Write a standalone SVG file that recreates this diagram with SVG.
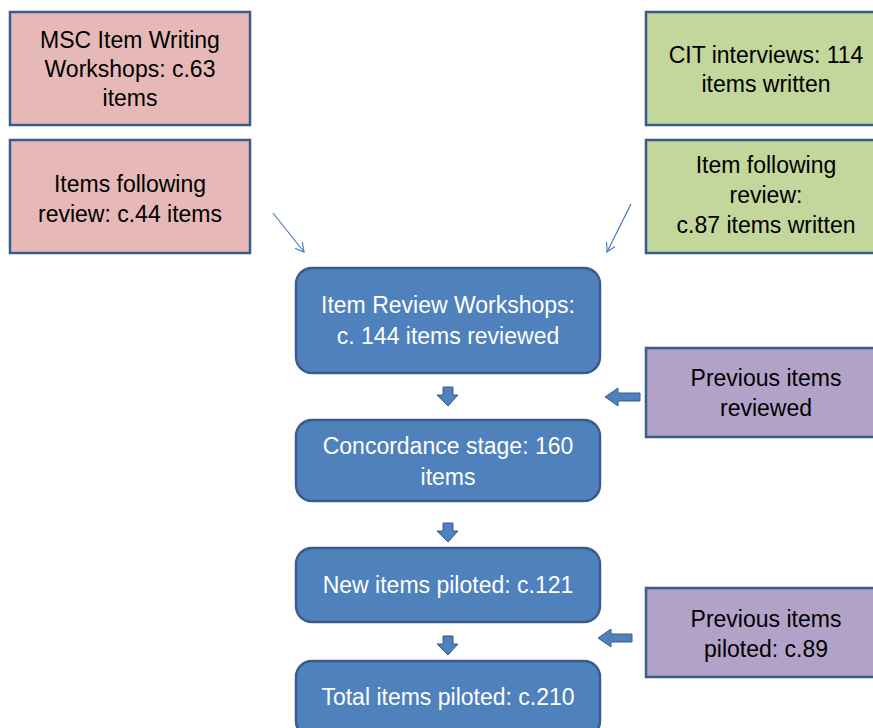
<svg xmlns="http://www.w3.org/2000/svg" width="873" height="728" viewBox="0 0 873 728">
<style>
.box{stroke:#385D8A;stroke-width:2.5}
.pink{fill:#E6B9B8}
.green{fill:#C3D69B}
.purple{fill:#B3A2C7}
.blue{fill:#4F81BD;stroke:#385D8A;stroke-width:2.5}
.arr{fill:#4F81BD;stroke:#385D8A;stroke-width:1}
text{font-family:"Liberation Sans",Arial,sans-serif;font-size:23px;text-anchor:middle}
.dark{fill:#000}
.light{fill:#fff}
.conn{stroke:#4A7EBB;stroke-width:1.2;fill:none}
</style>
<defs>
<marker id="open" viewBox="0 0 10 10" refX="9" refY="5" markerWidth="10" markerHeight="10" markerUnits="userSpaceOnUse" orient="auto">
<path d="M0,0 L9,5 L0,10" fill="none" stroke="#4A7EBB" stroke-width="1.2"/>
</marker>
</defs>
<rect width="873" height="728" fill="#fff"/>
<g id="msc-workshops">
<rect class="box pink" x="10" y="12" width="240" height="113"/>
<text class="dark" x="130" y="48">MSC Item Writing</text>
<text class="dark" x="130" y="77">Workshops: c.63</text>
<text class="dark" x="130" y="106">items</text>
</g>
<g id="msc-following">
<rect class="box pink" x="10" y="140" width="240" height="113"/>
<text class="dark" x="130" y="192">Items following</text>
<text class="dark" x="130" y="222">review: c.44 items</text>
</g>
<g id="cit-interviews">
<rect class="box green" x="646" y="12" width="242" height="113"/>
<text class="dark" x="766" y="63">CIT interviews: 114</text>
<text class="dark" x="766" y="92">items written</text>
</g>
<g id="cit-following">
<rect class="box green" x="646" y="140" width="242" height="113"/>
<text class="dark" x="766" y="173">Item following</text>
<text class="dark" x="766" y="203">review:</text>
<text class="dark" x="766" y="233">c.87 items written</text>
</g>
<g id="item-review">
<rect class="blue" x="296" y="268" width="304" height="105" rx="16"/>
<text class="light" x="448" y="313">Item Review Workshops:</text>
<text class="light" x="448" y="344">c. 144 items reviewed</text>
</g>
<g id="concordance">
<rect class="blue" x="296" y="420" width="304" height="81" rx="16"/>
<text class="light" x="448" y="454">Concordance stage: 160</text>
<text class="light" x="448" y="485">items</text>
</g>
<g id="new-piloted">
<rect class="blue" x="296" y="548" width="304" height="74" rx="16"/>
<text class="light" x="448" y="593">New items piloted: c.121</text>
</g>
<g id="total-piloted">
<rect class="blue" x="296" y="661" width="304" height="76" rx="16"/>
<text class="light" x="448" y="705">Total items piloted: c.210</text>
</g>
<g id="prev-reviewed">
<rect class="box purple" x="646" y="348" width="242" height="89"/>
<text class="dark" x="766" y="386">Previous items</text>
<text class="dark" x="766" y="416">reviewed</text>
</g>
<g id="prev-piloted">
<rect class="box purple" x="646" y="588" width="242" height="89"/>
<text class="dark" x="766" y="627">Previous items</text>
<text class="dark" x="766" y="657">piloted: c.89</text>
</g>
<g id="connectors">
<line class="conn" x1="273" y1="213" x2="304" y2="252" marker-end="url(#open)"/>
<line class="conn" x1="631" y1="204" x2="607" y2="252" marker-end="url(#open)"/>
<path class="arr" d="M443,387 H453 V395 H458 L448,406 L437,395 H443 Z"/>
<path class="arr" d="M443,523 H453 V531 H458 L448,542 L437,531 H443 Z"/>
<path class="arr" d="M443,636 H453 V644 H458 L448,655 L437,644 H443 Z"/>
<path class="arr" d="M640,393 V401 H618 V406 L605,397 L618,388 V393 Z"/>
<path class="arr" d="M632,634 V642 H611 V647 L598,638 L611,629 V634 Z"/>
</g>
</svg>
